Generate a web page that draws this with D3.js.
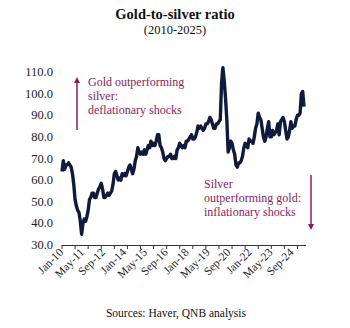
<!DOCTYPE html>
<html><head><meta charset="utf-8">
<script src="https://cdn.jsdelivr.net/npm/d3@7"></script>
<style>body{margin:0;background:#fff}svg{display:block}</style>
</head><body>
<svg id="c" width="350" height="328" font-family="'Liberation Serif', 'Times New Roman', 'DejaVu Serif', serif"></svg>
<script>
const title = "Gold-to-silver ratio";
const subtitle = "(2010-2025)";
const source = "Sources: Haver, QNB analysis";
const startYear = 2010;
const yTicks = [30,40,50,60,70,80,90,100,110];
const xLabelEvery = 16;
const xTickEvery = 10;
const monthNames = ["Jan","Feb","Mar","Apr","May","Jun","Jul","Aug","Sep","Oct","Nov","Dec"];
const ratio2010 = [64,69,65,67,67,68,67,66,63,58,51,48];
const ratio2011 = [46,45,41,35,40,42,41,43,46,51,52,54];
const ratio2012 = [54,52,52,54,56,57,58.5,56,52,52,53,54];
const ratio2013 = [53,54,55,58,63,64,62,60,61,60,63,62];
const ratio2014 = [63,62,64,66,67,65,63,65,69,71,75,73];
const ratio2015 = [72,73,72,74,72,74,76,75,78,76,77,76];
const ratio2016 = [78,81,81,76,75,73,70,69,70,71,71,72];
const ratio2017 = [70,70,71,70,74,75,77,76,75,76,75,78];
const ratio2018 = [78,79,80,81,79,79,80,82,85,84,85,84];
const ratio2019 = [83,84,86,86,87,89,88,86,84,84,86,86];
const ratio2020 = [87,88,105,112,106,98,88,73,75,78,77,74];
const ratio2021 = [72,67,66,68,68,69,71,75,77,76,75,79];
const ratio2022 = [78,78,77,80,84,86,91,89,88,84,80,78];
const ratio2023 = [80,84,87,80,80,83,81,82,83,86,81,87];
const ratio2024 = [88,89,87,83,79,80,83,87,84,85,85,88];
const ratio2025 = [90,90,91,100,101,94];
const values = [].concat(ratio2010,ratio2011,ratio2012,ratio2013,ratio2014,ratio2015,ratio2016,ratio2017,ratio2018,ratio2019,ratio2020,ratio2021,ratio2022,ratio2023,ratio2024,ratio2025);
const labelOf = i => monthNames[i%12] + "-" + String((startYear + Math.floor(i/12))%100).padStart(2,"0");

const svg = d3.select("#c");
const maroon = "#8c1d5c";
const x = d3.scaleLinear().domain([0, values.length-1]).range([62, 304]);
const y = d3.scaleLinear().domain([30,110]).range([245, 72]);

svg.append("text").attr("x",175).attr("y",19).attr("text-anchor","middle")
  .attr("font-size",14.5).attr("font-weight","bold").attr("fill","#111").text(title);
svg.append("text").attr("x",175).attr("y",34).attr("text-anchor","middle")
  .attr("font-size",12.5).attr("fill","#111").text(subtitle);

// y labels
svg.append("g").selectAll("text").data(yTicks).join("text")
  .attr("x",53).attr("y",d=>y(d)+4).attr("text-anchor","end")
  .attr("font-size",12.5).attr("fill","#222").text(d=>d.toFixed(1));

// x axis
const xa = svg.append("g");
xa.append("line").attr("x1",62).attr("x2",306).attr("y1",245.5).attr("y2",245.5).attr("stroke","#333").attr("stroke-width",1.2);
const tickIdx = d3.range(0, values.length+1, xTickEvery);
xa.selectAll("line.t").data(tickIdx).join("line").attr("class","t")
  .attr("x1",d=>x(d)).attr("x2",d=>x(d)).attr("y1",245).attr("y2",249).attr("stroke","#333");
const labIdx = d3.range(0, values.length, xLabelEvery);
xa.selectAll("text").data(labIdx).join("text")
  .attr("transform",d=>`translate(${x(d)+2},${253}) rotate(-45)`)
  .attr("text-anchor","end").attr("font-size",11.5).attr("fill","#222").text(labelOf);

// line
svg.append("path").datum(values)
  .attr("d", d3.line().x((d,i)=>x(i)).y(d=>y(d)))
  .attr("fill","none").attr("stroke","#0f1a3c").attr("stroke-width",3.4).attr("stroke-linejoin","round");

// annotations
svg.append("defs").append("marker").attr("id","ah").attr("viewBox","0 0 10 10")
  .attr("refX",5).attr("refY",5).attr("markerWidth",4).attr("markerHeight",4).attr("orient","auto-start-reverse")
  .append("path").attr("d","M0,0L10,5L0,10z").attr("fill",maroon);
svg.append("line").attr("x1",77).attr("x2",77).attr("y1",130).attr("y2",80)
  .attr("stroke",maroon).attr("stroke-width",1.5).attr("marker-end","url(#ah)");
svg.append("line").attr("x1",311).attr("x2",311).attr("y1",175).attr("y2",227)
  .attr("stroke",maroon).attr("stroke-width",1.5).attr("marker-end","url(#ah)");

const a1 = ["Gold outperforming","silver:","deflationary shocks"];
svg.append("g").selectAll("text").data(a1).join("text")
  .attr("x",88).attr("y",(d,i)=>86+i*14.2).attr("font-size",12).attr("fill",maroon).text(d=>d);
const a2 = ["Silver","outperforming gold:","inflationary shocks"];
svg.append("g").selectAll("text").data(a2).join("text")
  .attr("x",204).attr("y",(d,i)=>188+i*14).attr("font-size",12).attr("fill",maroon).text(d=>d);

svg.append("text").attr("x",176).attr("y",317).attr("text-anchor","middle")
  .attr("font-size",11.5).attr("fill","#111").text(source);
</script>
</body></html>
